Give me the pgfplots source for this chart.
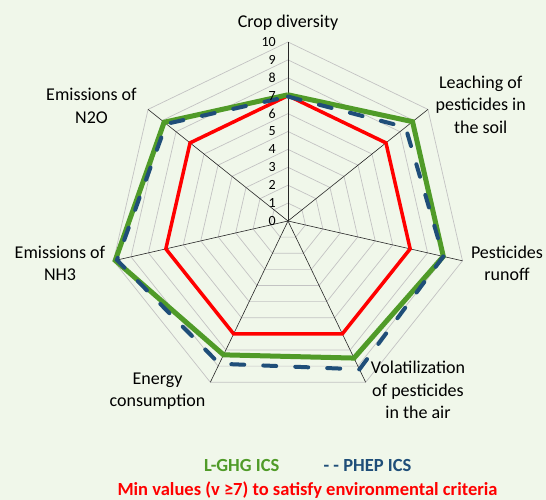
\documentclass[border=0pt]{standalone}
\usepackage{fontspec}
\setmainfont{Carlito}
\usepackage{pgfplots}
\pgfplotsset{compat=1.18}
\usetikzlibrary{backgrounds}
\definecolor{lg}{RGB}{80,155,40}
\definecolor{pb}{RGB}{31,78,121}
\definecolor{bgc}{RGB}{240,247,234}
\definecolor{gridc}{RGB}{195,195,195}
\begin{document}
\begin{tikzpicture}
\begin{axis}[x=17.9pt,y=17.9pt,hide axis,xmin=-10,xmax=10,ymin=-10,ymax=10,clip=false,data cs=polar]
% heptagonal grid
\pgfplotsinvokeforeach{1,...,10}{
  \addplot[gridc,line width=0.7pt] coordinates {(90,#1) (38.571,#1) (-12.857,#1) (-64.286,#1) (-115.714,#1) (-167.143,#1) (141.429,#1) (90,#1)};
}
% spokes
\pgfplotsinvokeforeach{90,38.571,-12.857,-64.286,-115.714,-167.143,141.429}{
  \addplot[black!85,line width=0.6pt] coordinates {(#1,0) (#1,10)};
}
% Min values (v >= 7)
\addplot[red,line width=3.5pt,line join=miter] coordinates {
 (90,7) (38.571,7) (-12.857,7) (-64.286,7) (-115.714,7) (-167.143,7) (141.429,7) (90,7)};
% L-GHG ICS
\addplot[lg,line width=5pt,line join=miter] coordinates {
 (90,7.05) (38.571,8.9) (-12.857,8.9) (-64.286,8.5) (-115.714,8.3) (-167.143,9.9) (141.429,8.85) (90,7.05)};
% PHEP ICS
\addplot[pb,line width=4pt,line cap=round,dash pattern=on 13pt off 19pt] coordinates {
 (90,6.95) (38.571,8.4) (-12.857,8.9) (-64.286,9.2) (-115.714,8.85) (-167.143,9.8) (141.429,8.7) (90,6.95)};
\coordinate (O) at (axis cs:0,0);
\end{axis}
\begin{scope}[shift={(O)}]
\begin{scope}[on background layer]
\fill[bgc] (-288pt,221pt) rectangle (258pt,-279pt);
\end{scope}
\foreach \v in {0,...,10}{
  \node[anchor=east,inner sep=0pt,font=\fontsize{14}{16}\selectfont,text=black] at (-12pt,{17.9*\v pt}) {\v};
}
\tikzset{lab/.style={align=center,inner sep=0pt,font=\fontsize{18}{22.5}\selectfont}}
\node[lab] at (0pt,198pt) {Crop diversity};
\node[lab] at (192.7pt,116.5pt) {Leaching of\\pesticides in\\the soil};
\node[lab] at (219pt,-42.3pt) {Pesticides\\runoff};
\node[lab] at (130pt,-169pt) {Volatilization\\of pesticides\\in the air};
\node[lab] at (-130.5pt,-170pt) {Energy\\consumption};
\node[lab] at (-228pt,-42.3pt) {Emissions of\\NH3};
\node[lab] at (-196.5pt,115pt) {Emissions of\\N2O};
\tikzset{leg/.style={inner sep=0pt,font=\fontsize{18.5}{22}\selectfont\bfseries}}
\node[leg,text=lg] at (-46.3pt,-244pt) {L-GHG ICS};
\node[leg,text=pb] at (79.5pt,-244pt) {- - PHEP ICS};
\node[leg,text=red] at (19.5pt,-269pt) {Min values (v ≥7) to satisfy environmental criteria};
\end{scope}
\pgfresetboundingbox
\path[shift={(O)}] (-288pt,221pt) rectangle (258pt,-279pt);
\end{tikzpicture}
\end{document}
